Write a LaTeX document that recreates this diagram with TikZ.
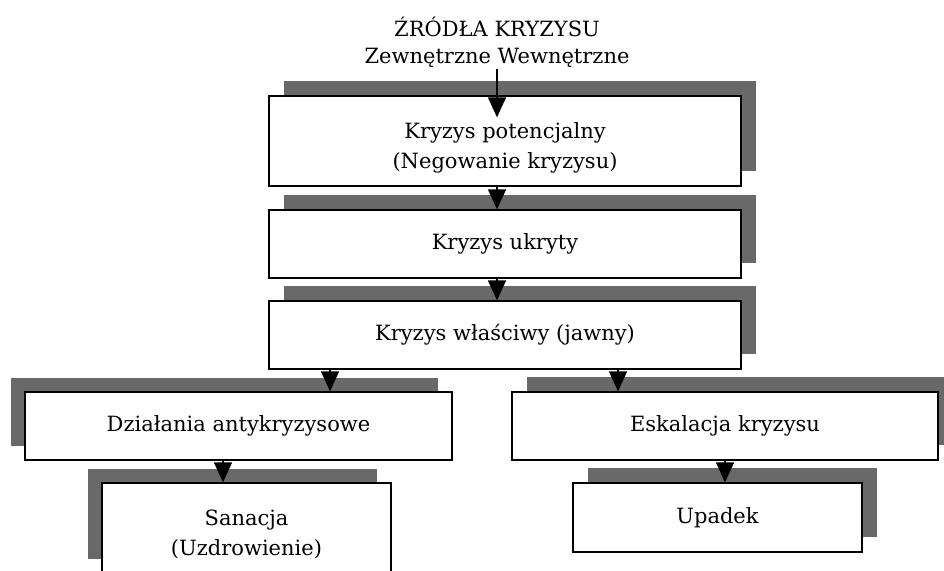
\documentclass[tikz,border=0pt]{standalone}
\usepackage{fontspec}
\setmainfont{DejaVu Serif}
\usepackage{xcolor}
\usepackage{tikz}
\usetikzlibrary{positioning, arrows.meta, shadows, calc}
\definecolor{shadowGray}{HTML}{696969}
\definecolor{lineBlack}{HTML}{000000}

\begin{document}
\begin{tikzpicture}[x=1pt, y=-1pt,
    stagebox/.style={draw=lineBlack, line width=1.3pt, fill=white, inner sep=0pt,
      align=center, font=\fontsize{21}{30}\selectfont},
    stageR/.style={stagebox, general shadow={fill=shadowGray, draw=none, shadow xshift=15pt, shadow yshift=15pt}},
    stageL/.style={stagebox, general shadow={fill=shadowGray, draw=none, shadow xshift=-14pt, shadow yshift=14pt}},
    flow/.style={-{Triangle[width=18pt, length=20pt]}, line width=1.3pt, color=lineBlack}]
  \useasboundingbox (0, 0) rectangle (944, 570);
  \node[align=center, inner sep=2pt, font=\fontsize{21}{27}\selectfont] (src) at (497, 42) {ŹRÓDŁA KRYZYSU\\Zewnętrzne Wewnętrzne};
  % main chain
  \node[stageR, minimum width=472pt, minimum height=90pt] (pot) at (505, 141) {\rule{0pt}{30pt}Kryzys potencjalny\\(Negowanie kryzysu)};
  \node[stageR, minimum width=472pt, minimum height=68pt] (hid) at (505, 244) {Kryzys ukryty};
  \node[stageR, minimum width=472pt, minimum height=68pt] (jaw) at (505, 335) {Kryzys właściwy (jawny)};
  % branches
  \node[stageL, minimum width=427pt, minimum height=68pt] (dzi) at (238.5, 426) {Działania antykryzysowe};
  \node[stageL, minimum width=289pt, minimum height=90pt] (san) at (246.5, 528) {\rule{0pt}{29pt}Sanacja\\(Uzdrowienie)};
  \node[stageR, minimum width=426pt, minimum height=68pt] (esk) at (725, 426) {Eskalacja kryzysu};
  \node[stageR, minimum width=289pt, minimum height=69pt] (upa) at (717.5, 517.5) {Upadek};
  \coordinate (branchL) at (330, 0);
  \coordinate (branchR) at (618, 0);
  \coordinate (branchS) at (223, 0);
  \draw[flow, shorten >=-22pt] (src.south) -- (pot.north -| src.south);
  \draw[flow] (pot.south -| src.south) -- (hid.north -| src.south);
  \draw[flow] (hid.south -| src.south) -- (jaw.north -| src.south);
  \draw[flow] (jaw.south -| branchL) -- (dzi.north -| branchL);
  \draw[flow] (jaw.south -| branchR) -- (esk.north -| branchR);
  \draw[flow] (dzi.south -| branchS) -- (san.north -| branchS);
  \draw[flow] (esk.south) -- (upa.north -| esk.south);
\end{tikzpicture}
\end{document}
